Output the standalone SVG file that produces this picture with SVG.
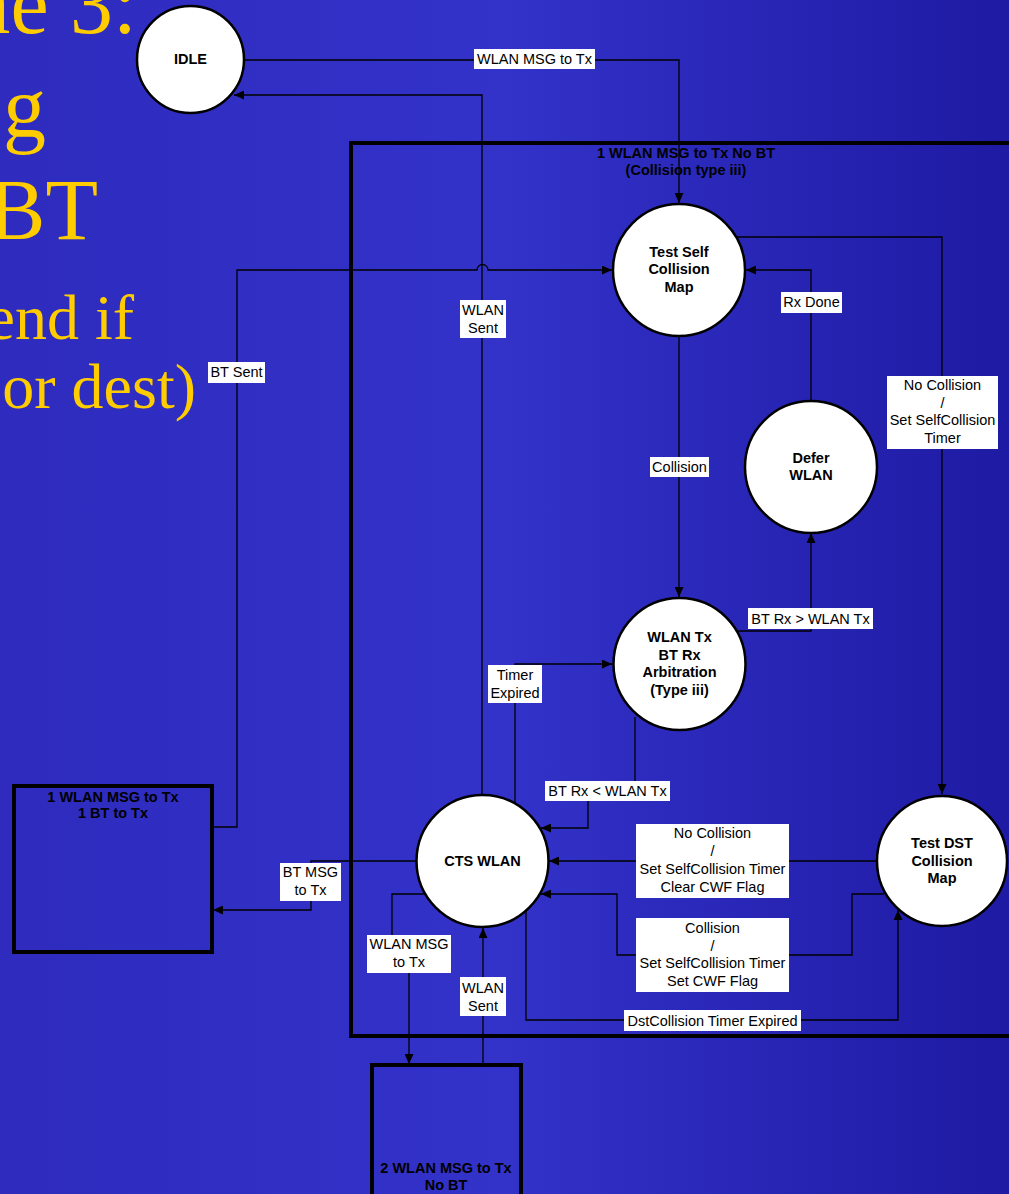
<svg xmlns="http://www.w3.org/2000/svg" width="1009" height="1194" viewBox="0 0 1009 1194">
<defs>
<linearGradient id="bg" x1="0" y1="0" x2="1" y2="0">
<stop offset="0" stop-color="#2e2bbe"/>
<stop offset="0.5" stop-color="#3332c9"/>
<stop offset="1" stop-color="#1e1aa3"/>
</linearGradient>
<marker id="arr" markerUnits="userSpaceOnUse" markerWidth="11" markerHeight="9" refX="10" refY="4.5" orient="auto">
<path d="M0,0 L10,4.5 L0,9 z" fill="#000"/>
</marker>
<style>
.title{font-family:"Liberation Serif","Times New Roman",serif;fill:#ffcc00}
.node{fill:#fff;stroke:#000;stroke-width:2.5}
.box{fill:none;stroke:#000;stroke-width:4}
.nt{font-family:"Liberation Sans",Arial,sans-serif;font-weight:bold;font-size:14.5px;fill:#000;text-anchor:middle}
.ln{fill:none;stroke:#000;stroke-width:1.3}
.lb{fill:#fff}
.lt{font-family:"Liberation Sans",Arial,sans-serif;font-size:14.5px;fill:#000;text-anchor:middle}
</style>
</defs>
<rect x="0" y="0" width="1009" height="1194" fill="url(#bg)"/>

<g id="title">
<text class="title" x="137" y="33" font-size="86" text-anchor="end">me 3:</text>
<text class="title" x="46" y="136" font-size="86" text-anchor="end">g</text>
<text class="title" x="98" y="239" font-size="86" text-anchor="end">BT</text>
<text class="title" x="134" y="339" font-size="64" text-anchor="end">end if</text>
<text class="title" x="196" y="408" font-size="64" text-anchor="end">or dest)</text>
</g>

<g id="container">
<rect class="box" x="351" y="143" width="700" height="893"/>
</g>

<g id="connectors">
<!-- IDLE -> Test Self -->
<path class="ln" d="M244,60 H679 V203" marker-end="url(#arr)"/>
<!-- CTS -> IDLE (WLAN Sent) -->
<path class="ln" d="M482,795 V95 H234" marker-end="url(#arr)"/>
<!-- BT Sent -->
<path class="ln" d="M212,827 H237 V270 H477 A5.5,5.5 0 0 1 488,270 H612" marker-end="url(#arr)"/>
<!-- Test Self -> Test DST -->
<path class="ln" d="M736,237 H942 V794" marker-end="url(#arr)"/>
<!-- Test Self -> Arbitration -->
<path class="ln" d="M679,336 V597" marker-end="url(#arr)"/>
<!-- Defer -> Test Self -->
<path class="ln" d="M811,401 V270 H746" marker-end="url(#arr)"/>
<!-- Arbitration -> Defer -->
<path class="ln" d="M738,631 H811 V533" marker-end="url(#arr)"/>
<!-- Arbitration -> CTS (BT Rx < WLAN Tx) -->
<path class="ln" d="M635,717 V790 H588 V828 H541" marker-end="url(#arr)"/>
<!-- CTS -> Arbitration (Timer Expired) -->
<path class="ln" d="M515,803 V664 H612" marker-end="url(#arr)"/>
<!-- Test DST -> CTS (No Collision) -->
<path class="ln" d="M877,861 H549" marker-end="url(#arr)"/>
<!-- Test DST -> CTS (Collision) -->
<path class="ln" d="M884,894 H852 V955 H617 V894 H541" marker-end="url(#arr)"/>
<!-- CTS -> Test DST (DstCollision Timer Expired) -->
<path class="ln" d="M526,911 V1020 H898 V910" marker-end="url(#arr)"/>
<!-- CTS -> left box (BT MSG to Tx) -->
<path class="ln" d="M417,861 H311 V910 H213" marker-end="url(#arr)"/>
<!-- CTS -> bottom box (WLAN MSG to Tx) -->
<path class="ln" d="M425,894 H392 V954 H409 V1064" marker-end="url(#arr)"/>
<!-- bottom box -> CTS (WLAN Sent) -->
<path class="ln" d="M483,1065 V928" marker-end="url(#arr)"/>

<g id="labels">
<rect class="lb" x="474" y="49" width="121" height="20"/>
<text class="lt" x="534.5" y="64">WLAN MSG to Tx</text>
<rect class="lb" x="460" y="300" width="46" height="38"/>
<text class="lt" x="483" y="315">WLAN</text>
<text class="lt" x="483" y="333">Sent</text>
<rect class="lb" x="208" y="362" width="57" height="21"/>
<text class="lt" x="236.5" y="377">BT Sent</text>
<rect class="lb" x="650" y="457" width="59" height="20"/>
<text class="lt" x="679.5" y="472">Collision</text>
<rect class="lb" x="781" y="292" width="61" height="21"/>
<text class="lt" x="811.5" y="307">Rx Done</text>
<rect class="lb" x="887" y="376" width="111" height="73"/>
<text class="lt" x="942.5" y="390">No Collision</text>
<text class="lt" x="942.5" y="408">/</text>
<text class="lt" x="942.5" y="425">Set SelfCollision</text>
<text class="lt" x="942.5" y="443">Timer</text>
<rect class="lb" x="748" y="608" width="125" height="21"/>
<text class="lt" x="810.5" y="624">BT Rx &gt; WLAN Tx</text>
<rect class="lb" x="488" y="665" width="54" height="38"/>
<text class="lt" x="515" y="680">Timer</text>
<text class="lt" x="515" y="698">Expired</text>
<rect class="lb" x="545" y="781" width="125" height="20"/>
<text class="lt" x="607.5" y="796">BT Rx &lt; WLAN Tx</text>
<rect class="lb" x="636" y="824" width="153" height="74"/>
<text class="lt" x="712.5" y="838">No Collision</text>
<text class="lt" x="712.5" y="856">/</text>
<text class="lt" x="712.5" y="874">Set SelfCollision Timer</text>
<text class="lt" x="712.5" y="892">Clear CWF Flag</text>
<rect class="lb" x="636" y="918" width="153" height="74"/>
<text class="lt" x="712.5" y="933">Collision</text>
<text class="lt" x="712.5" y="951">/</text>
<text class="lt" x="712.5" y="968">Set SelfCollision Timer</text>
<text class="lt" x="712.5" y="986">Set CWF Flag</text>
<rect class="lb" x="624" y="1010" width="177" height="21"/>
<text class="lt" x="712.5" y="1026">DstCollision Timer Expired</text>
<rect class="lb" x="280" y="863" width="61" height="38"/>
<text class="lt" x="310.5" y="877">BT MSG</text>
<text class="lt" x="310.5" y="895">to Tx</text>
<rect class="lb" x="367" y="935" width="84" height="38"/>
<text class="lt" x="409" y="949">WLAN MSG</text>
<text class="lt" x="409" y="967">to Tx</text>
<rect class="lb" x="460" y="977" width="46" height="39"/>
<text class="lt" x="483" y="993">WLAN</text>
<text class="lt" x="483" y="1011">Sent</text>
</g>
</g>

<g id="container-label">
<text class="nt" x="686" y="158">1 WLAN MSG to Tx No BT</text>
<text class="nt" x="686" y="175">(Collision type iii)</text>
</g>

<g id="idle">
<circle class="node" cx="190.5" cy="59.5" r="53.5"/>
<text class="nt" x="190.5" y="64">IDLE</text>
</g>

<g id="test-self">
<circle class="node" cx="679" cy="270" r="66"/>
<text class="nt" x="679" y="257">Test Self</text>
<text class="nt" x="679" y="274">Collision</text>
<text class="nt" x="679" y="292">Map</text>
</g>

<g id="defer-wlan">
<circle class="node" cx="811" cy="467" r="66"/>
<text class="nt" x="811" y="463">Defer</text>
<text class="nt" x="811" y="480">WLAN</text>
</g>

<g id="arbitration">
<circle class="node" cx="679.5" cy="664" r="66"/>
<text class="nt" x="679.5" y="642">WLAN Tx</text>
<text class="nt" x="679.5" y="660">BT Rx</text>
<text class="nt" x="679.5" y="677">Arbitration</text>
<text class="nt" x="679.5" y="695">(Type iii)</text>
</g>

<g id="cts-wlan">
<circle class="node" cx="482.5" cy="861" r="66"/>
<text class="nt" x="482.5" y="866">CTS WLAN</text>
</g>

<g id="test-dst">
<circle class="node" cx="942" cy="861" r="65"/>
<text class="nt" x="942" y="848">Test DST</text>
<text class="nt" x="942" y="866">Collision</text>
<text class="nt" x="942" y="883">Map</text>
</g>

<g id="box-wlan-bt">
<rect class="box" x="14" y="786" width="198" height="166"/>
<text class="nt" x="113" y="802">1 WLAN MSG to Tx</text>
<text class="nt" x="113" y="818">1 BT to Tx</text>
</g>

<g id="box-2wlan">
<rect class="box" x="372" y="1065" width="149" height="140"/>
<text class="nt" x="446" y="1173">2 WLAN MSG to Tx</text>
<text class="nt" x="446" y="1190">No BT</text>
</g>
</svg>
